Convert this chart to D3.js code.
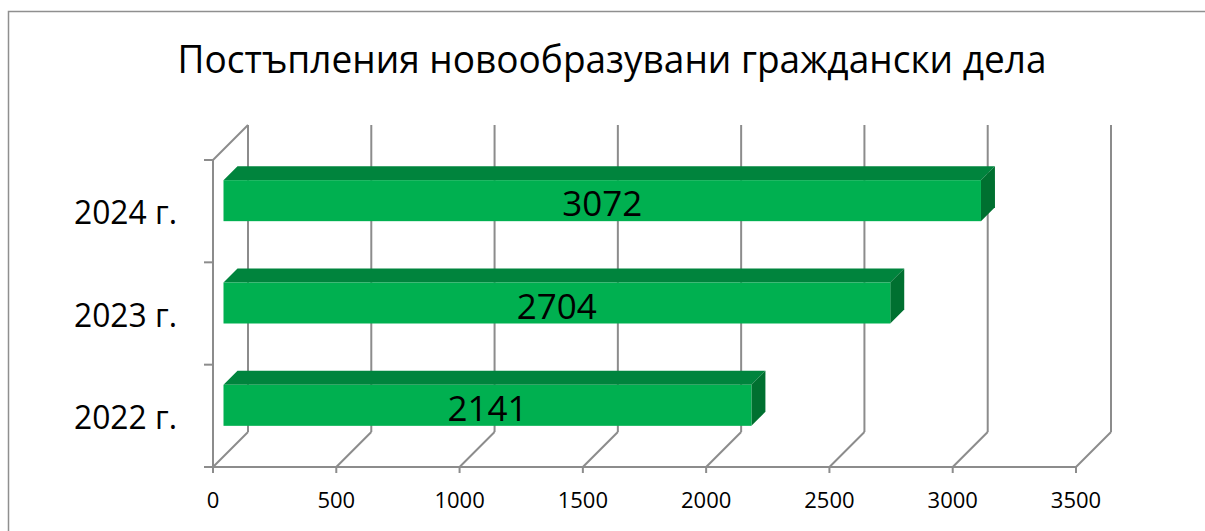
<!DOCTYPE html>
<html>
<head>
<meta charset="utf-8">
<script src="https://cdn.jsdelivr.net/npm/d3@7"></script>
<style>
  body { margin: 0; background: white; }
  svg { display: block; }
</style>
</head>
<body>
<div id="chart"></div>
<script>
/* DATA */
const title = "Постъпления новообразувани граждански дела";
const categories = ["2024 г.", "2023 г.", "2022 г."];
const values = [3072, 2704, 2141];
const ticks = [0, 500, 1000, 1500, 2000, 2500, 3000, 3500];

/* CONSTANTS */
const width = 1205;
const height = 531;
const font = "'Open Sans', 'Noto Sans', sans-serif";
const gridColor = "#8c8c8c";
const front = "#00b050", topC = "#00843d", sideC = "#007030";
const wallDepth = 35;      // back wall offset (dx, -dy)
const barFront = 10.5;     // bar front plane depth
const barDepth = 14;
const barH = 41;

const svg = d3.select("#chart").append("svg")
  .attr("width", width)
  .attr("height", height);

// chart border
svg.append("rect")
  .attr("x", 8.5).attr("y", 11.5)
  .attr("width", 1210).attr("height", 540)
  .attr("fill", "white")
  .attr("stroke", "#8f8f8f").attr("stroke-width", 1.5);

// scales (front plane)
const x = d3.scaleLinear().domain([0, 3500]).range([213, 1076]);
const y = d3.scaleBand().domain(categories).range([160, 467]);

// squeeze text to a target width (Calibri is narrower than what we have)
function squeeze(sel, wfn) {
  sel.each(function (d) {
    const w = this.getComputedTextLength();
    const target = typeof wfn === "function" ? wfn(d) : wfn;
    if (w > target) {
      d3.select(this).attr("textLength", target).attr("lengthAdjust", "spacingAndGlyphs");
    }
  });
}

const grid = svg.append("g")
  .attr("stroke", gridColor).attr("stroke-width", 2).attr("fill", "none");

// back wall vertical gridlines
grid.selectAll(".back").data(ticks).join("line")
  .attr("x1", d => x(d) + wallDepth).attr("x2", d => x(d) + wallDepth)
  .attr("y1", 125).attr("y2", y.range()[1] - wallDepth);

// floor diagonals
grid.selectAll(".floor").data(ticks).join("line")
  .attr("x1", d => x(d)).attr("y1", y.range()[1])
  .attr("x2", d => x(d) + wallDepth).attr("y2", y.range()[1] - wallDepth);

// front axis line + ticks
grid.append("line")
  .attr("x1", x(0)).attr("x2", x(3500))
  .attr("y1", y.range()[1]).attr("y2", y.range()[1]);
grid.selectAll(".xt").data(ticks).join("line")
  .attr("x1", d => x(d)).attr("x2", d => x(d))
  .attr("y1", y.range()[1]).attr("y2", y.range()[1] + 6);

// left wall
grid.append("line")
  .attr("x1", x(0)).attr("x2", x(0))
  .attr("y1", y.range()[0]).attr("y2", y.range()[1]);
grid.append("line")
  .attr("x1", x(0)).attr("y1", y.range()[0])
  .attr("x2", x(0) + wallDepth).attr("y2", y.range()[0] - wallDepth);
const yEdges = categories.map(c => y(c)).concat([y.range()[1]]);
grid.selectAll(".yt").data(yEdges).join("line")
  .attr("x1", x(0) - 9).attr("x2", x(0))
  .attr("y1", d => d).attr("y2", d => d);

// bars
const bars = svg.append("g").selectAll("g")
  .data(categories.map((c, i) => ({ cat: c, value: values[i] })))
  .join("g");

const x0 = d => x(0) + barFront;
const x1 = d => x(d.value) + barFront;
const yt = d => y(d.cat) + y.bandwidth() / 2 - barFront - barH / 2;

bars.append("polygon")
  .attr("fill", topC)
  .attr("points", d => [
    [x0(d), yt(d)], [x1(d), yt(d)],
    [x1(d) + barDepth, yt(d) - barDepth], [x0(d) + barDepth, yt(d) - barDepth]
  ].join(" "));

bars.append("polygon")
  .attr("fill", sideC)
  .attr("points", d => [
    [x1(d), yt(d)], [x1(d) + barDepth, yt(d) - barDepth],
    [x1(d) + barDepth, yt(d) + barH - barDepth], [x1(d), yt(d) + barH]
  ].join(" "));

bars.append("rect")
  .attr("fill", front)
  .attr("x", x0).attr("y", yt)
  .attr("width", d => x1(d) - x0(d))
  .attr("height", barH);

// value labels
bars.append("text")
  .attr("x", d => (x0(d) + x1(d)) / 2)
  .attr("y", d => yt(d) + 36)
  .attr("text-anchor", "middle")
  .attr("font-family", font)
  .attr("font-size", 35)
  .attr("fill", "black")
  .text(d => d.value)
  .call(squeeze, 83);

// category labels
svg.append("g").selectAll("text")
  .data(categories).join("text")
  .attr("x", 177)
  .attr("y", d => y(d) + y.bandwidth() / 2 + 13)
  .attr("text-anchor", "end")
  .attr("font-family", font)
  .attr("font-size", 32)
  .attr("fill", "black")
  .text(d => d)
  .call(squeeze, 103);

// x tick labels
svg.append("g").selectAll("text")
  .data(ticks).join("text")
  .attr("x", d => x(d))
  .attr("y", 508)
  .attr("text-anchor", "middle")
  .attr("font-family", font)
  .attr("font-size", 22)
  .attr("fill", "black")
  .text(d => d)
  .call(squeeze, d => String(d).length * 13.3);

// title
svg.append("text")
  .attr("x", 612)
  .attr("y", 73)
  .attr("text-anchor", "middle")
  .attr("font-family", font)
  .attr("font-size", 39)
  .attr("fill", "black")
  .text(title)
  .call(squeeze, 869);
</script>
</body>
</html>
